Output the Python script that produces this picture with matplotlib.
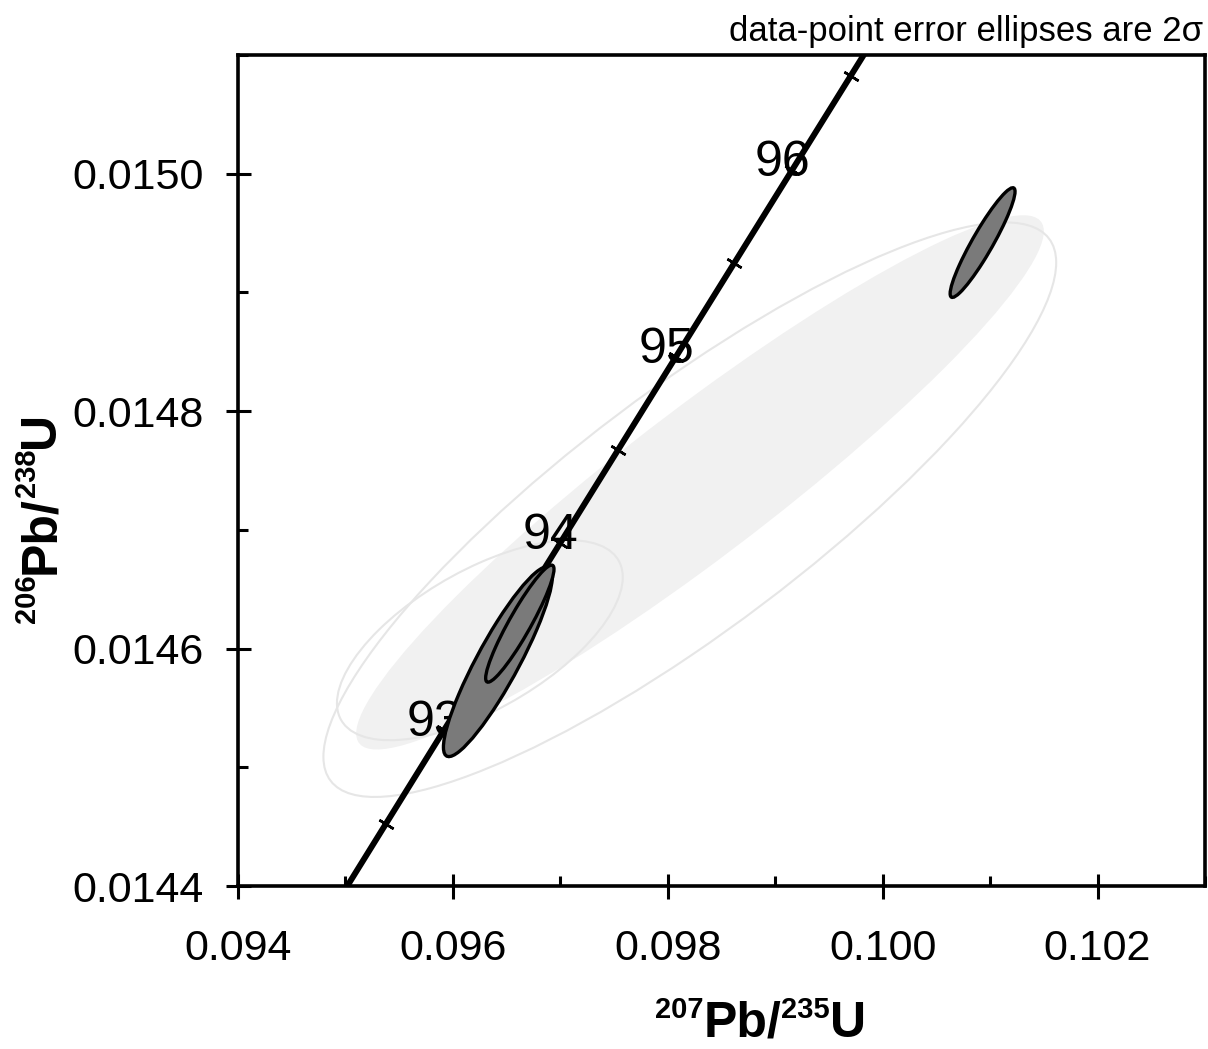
import numpy as np
import matplotlib
matplotlib.use("Agg")
import matplotlib.pyplot as plt
from matplotlib.patches import Ellipse
from matplotlib.ticker import MultipleLocator, FormatStrFormatter

# Decay constants (1/yr)
LAMBDA_238 = 1.55125e-10
LAMBDA_235 = 9.8485e-10

# Concordia: age span drawn, age ticks and labelled ages (Ma)
CURVE_AGE_RANGE = (91.5, 97.5)
TICK_AGES = [92.5, 93.0, 93.5, 94.0, 94.5, 95.0, 95.5, 96.0, 96.5]
LABEL_AGES = [93, 94, 95, 96]

# Spot analyses: ratios, 2-sigma errors, error correlation
PB207_U235 = [0.100930, 0.096419, 0.096623]
PB206_U238 = [0.014942, 0.014589, 0.014621]
ERR2_207_235 = [0.000302, 0.000507, 0.000318]
ERR2_206_238 = [0.0000462, 0.0000800, 0.0000493]
RHO = [0.93, 0.90, 0.93]
DRAW_ORDER = [1, 2, 0]

# Faint underlay ellipses (same parameterisation)
UNDER_FILL_X = [0.098300]
UNDER_FILL_Y = [0.014740]
UNDER_FILL_EX = [0.00320]
UNDER_FILL_EY = [0.000225]
UNDER_FILL_RHO = [0.94]
UNDER_LINE_X = [0.096251, 0.098205]
UNDER_LINE_Y = [0.014607, 0.014717]
UNDER_LINE_EX = [0.00133, 0.00341]
UNDER_LINE_EY = [0.0000842, 0.000242]
UNDER_LINE_RHO = [0.63, 0.86]

X_LIM = (0.094, 0.1030)
Y_LIM = (0.0144, 0.0151)

FONT = "Liberation Sans"
W, H = 1208, 1049


def concordia(t_ma):
    t = np.asarray(t_ma) * 1e6
    return np.exp(LAMBDA_235 * t) - 1.0, np.exp(LAMBDA_238 * t) - 1.0


def error_ellipse(cx, cy, ex, ey, rho, **kw):
    cov = np.array([[ex * ex, rho * ex * ey], [rho * ex * ey, ey * ey]])
    vals, vecs = np.linalg.eigh(cov)
    width = 2 * np.sqrt(vals[1])
    height = 2 * np.sqrt(vals[0])
    angle = np.degrees(np.arctan2(vecs[1, 1], vecs[0, 1]))
    return Ellipse((cx, cy), width, height, angle=angle, **kw)


fig = plt.figure(figsize=(W / 100, H / 100), dpi=100)
ax = fig.add_axes([238 / W, (H - 886) / H, (1205 - 238) / W, (886 - 55) / H])
ax.set_xlim(*X_LIM)
ax.set_ylim(*Y_LIM)

# underlay
for cx, cy, ex, ey, r in zip(UNDER_FILL_X, UNDER_FILL_Y, UNDER_FILL_EX,
                             UNDER_FILL_EY, UNDER_FILL_RHO):
    ax.add_patch(error_ellipse(cx, cy, ex, ey, r, facecolor="#f1f1f1",
                               edgecolor="none", zorder=0.5))
for cx, cy, ex, ey, r in zip(UNDER_LINE_X, UNDER_LINE_Y, UNDER_LINE_EX,
                             UNDER_LINE_EY, UNDER_LINE_RHO):
    ax.add_patch(error_ellipse(cx, cy, ex, ey, r, facecolor="none",
                               edgecolor="#e6e6e6", lw=1.5, zorder=0.6))

# concordia curve
ages = np.linspace(*CURVE_AGE_RANGE, 400)
cx_, cy_ = concordia(ages)
ax.plot(cx_, cy_, color="black", lw=4.3, solid_capstyle="butt", zorder=2)

# age ticks perpendicular to the curve
fig.canvas.draw()
tx, ty = concordia(TICK_AGES)
for a, x0, y0 in zip(TICK_AGES, tx, ty):
    x1, y1 = concordia(a + 0.01)
    p0 = ax.transData.transform((x0, y0))
    p1 = ax.transData.transform((x1, y1))
    phi = np.degrees(np.arctan2(p1[1] - p0[1], p1[0] - p0[0]))
    ax.plot([x0], [y0], marker=(2, 2, phi), ms=12, mew=1.8, color="black",
            zorder=2.1)

lx, ly = concordia(LABEL_AGES)
for a, x0, y0 in zip(LABEL_AGES, lx, ly):
    ax.annotate(str(a), (x0, y0), xytext=(18, -6), textcoords="offset pixels",
                ha="right", va="baseline", fontsize=36, family=FONT,
                color="black", zorder=2.5)

# spot error ellipses
for i in DRAW_ORDER:
    ax.add_patch(error_ellipse(PB207_U235[i], PB206_U238[i], ERR2_207_235[i],
                               ERR2_206_238[i], RHO[i], facecolor="#7a7a7a",
                               edgecolor="black", lw=2.4, zorder=3))

# axes styling
for s in ax.spines.values():
    s.set_linewidth(2.6)
ax.xaxis.set_major_locator(MultipleLocator(0.002))
ax.xaxis.set_minor_locator(MultipleLocator(0.001))
ax.yaxis.set_major_locator(MultipleLocator(0.0002))
ax.yaxis.set_minor_locator(MultipleLocator(0.0001))
ax.xaxis.set_major_formatter(FormatStrFormatter("%.3f"))
ax.yaxis.set_major_formatter(FormatStrFormatter("%.4f"))
ax.tick_params(which="major", direction="inout", length=18, width=2.2,
               labelsize=31)
ax.tick_params(axis="x", which="major", pad=22)
ax.tick_params(axis="y", which="major", pad=16)
ax.tick_params(which="minor", direction="in", length=7.5, width=2.2)
ax.tick_params(top=False, right=False, which="both")
for lab in ax.get_xticklabels() + ax.get_yticklabels():
    lab.set_family(FONT)

fig.text(1203 / W, 1 - 41 / H, "data-point error ellipses are 2\u03c3",
         ha="right", va="baseline", fontsize=25, family=FONT)


def rich_label(pieces, x_px, y_px, rotation=0):
    """Draw bold text pieces (text, size, raise_px) along a baseline."""
    renderer = fig.canvas.get_renderer()
    pos = 0.0
    rad = np.radians(rotation)
    ux, uy = np.cos(rad), np.sin(rad)
    nx, ny = -np.sin(rad), np.cos(rad)
    for txt, size, rise in pieces:
        t = fig.text(0, 0, txt, fontsize=size, weight="bold", family=FONT,
                     ha="left", va="baseline", rotation=rotation,
                     rotation_mode="anchor")
        bx = x_px + pos * ux + rise * nx
        by = (H - y_px) + pos * uy + rise * ny
        t.set_position((bx / W, by / H))
        t.set_rotation(0)
        wdt = t.get_window_extent(renderer).width
        t.set_rotation(rotation)
        pos += wdt


SUP = 21
MAIN = 36
RISE = 19
rich_label([("207", SUP, RISE), ("Pb/", MAIN, 0), ("235", SUP, RISE),
            ("U", MAIN, 0)], 655, 1037)
rich_label([("206", SUP, RISE), ("Pb/", MAIN, 0), ("238", SUP, RISE),
            ("U", MAIN, 0)], 54, 623, rotation=90)

fig.savefig("out.png", dpi=100)
